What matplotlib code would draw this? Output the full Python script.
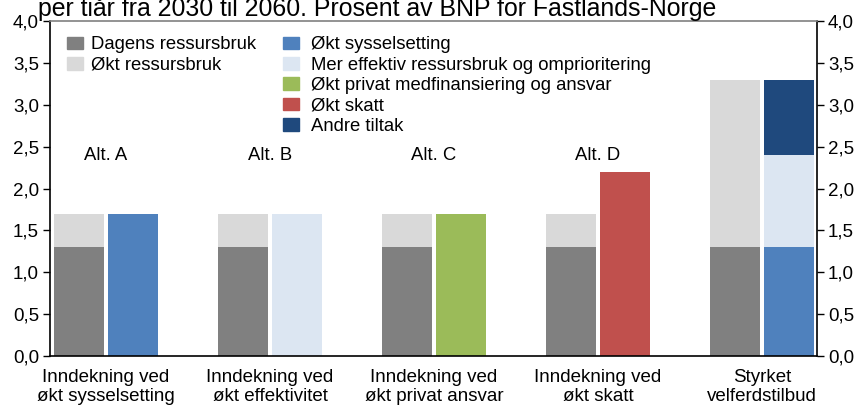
import numpy as np
import matplotlib.pyplot as plt
from matplotlib.patches import Patch

plt.rcParams['font.family'] = ['Liberation Sans', 'DejaVu Sans']

# data
groups = ["Inndekning ved\nøkt sysselsetting", "Inndekning ved\nøkt effektivitet",
          "Inndekning ved\nøkt privat ansvar", "Inndekning ved\nøkt skatt",
          "Styrket\nvelferdstilbud"]
alt_labels = ["Alt. A", "Alt. B", "Alt. C", "Alt. D", ""]
dagens = [1.3, 1.3, 1.3, 1.3, 1.3]
okt_ressurs = [0.4, 0.4, 0.4, 0.4, 2.0]
sysselsetting = [1.7, 0.0, 0.0, 0.0, 1.3]
effektiv = [0.0, 1.7, 0.0, 0.0, 1.1]
privat = [0.0, 0.0, 1.7, 0.0, 0.0]
skatt = [0.0, 0.0, 0.0, 2.2, 0.0]
andre = [0.0, 0.0, 0.0, 0.0, 0.9]

c_dagens = "#808080"
c_okt = "#d9d9d9"
c_syss = "#4f81bd"
c_eff = "#dce6f2"
c_priv = "#9bbb59"
c_skatt = "#c0504d"
c_andre = "#1f497d"

fig = plt.figure(figsize=(8.61, 4.05), dpi=100)
ax = fig.add_axes([50/861, 49/405, 767/861, 335/405])

x = np.arange(len(groups))
w = 0.305
off = 0.165

# left stacked bars
ax.bar(x - off, dagens, w, color=c_dagens)
ax.bar(x - off, okt_ressurs, w, bottom=dagens, color=c_okt)

# right stacked bars
bottom = np.zeros(len(groups))
for vals, col in [(sysselsetting, c_syss), (effektiv, c_eff), (privat, c_priv),
                  (skatt, c_skatt), (andre, c_andre)]:
    ax.bar(x + off, vals, w, bottom=bottom, color=col)
    bottom = bottom + np.array(vals)

for xi, lab in zip(x, alt_labels):
    if lab:
        ax.text(xi, 2.39, lab, ha='center', va='center', fontsize=13.3)

ax.set_xlim(-0.341, 4.335)
ax.set_ylim(0, 4.0)
yt = np.arange(0, 4.01, 0.5)
ax.set_yticks(yt)
ax.set_yticklabels([f"{v:.1f}".replace('.', ',') for v in yt], fontsize=13.5)
ax.tick_params(axis='y', direction='out', length=5, width=1, right=True,
               labelright=True, pad=3)
ax.set_xticks(x)
ax.set_xticklabels(groups, fontsize=13.5, linespacing=1.22)
ax.tick_params(axis='x', length=0, pad=9)

for s in ['left', 'right', 'bottom']:
    ax.spines[s].set_color('black')
    ax.spines[s].set_linewidth(1.2)
ax.spines['top'].set_color('#808080')
ax.spines['top'].set_linewidth(1.2)

leg1 = ax.legend(handles=[Patch(color=c_dagens, label="Dagens ressursbruk"),
                          Patch(color=c_okt, label="Økt ressursbruk")],
                 loc='upper left', bbox_to_anchor=(0.0222, 0.954), frameon=False,
                 fontsize=13.3, handlelength=0.86, handleheight=0.69,
                 handletextpad=0.43, labelspacing=0.18, borderpad=0, borderaxespad=0)
ax.add_artist(leg1)
ax.legend(handles=[Patch(color=c_syss, label="Økt sysselsetting"),
                   Patch(color=c_eff, label="Mer effektiv ressursbruk og omprioritering"),
                   Patch(color=c_priv, label="Økt privat medfinansiering og ansvar"),
                   Patch(color=c_skatt, label="Økt skatt"),
                   Patch(color=c_andre, label="Andre tiltak")],
          loc='upper left', bbox_to_anchor=(0.3038, 0.954), frameon=False,
          fontsize=13.3, handlelength=0.86, handleheight=0.69,
          handletextpad=0.65, labelspacing=0.18, borderpad=0, borderaxespad=0)

fig.text(38/861, 1 - 16/405, "per tiår fra 2030 til 2060. Prosent av BNP for Fastlands-Norge",
         fontsize=17.9, ha='left', va='baseline')

fig.savefig("out.png", dpi=100)
